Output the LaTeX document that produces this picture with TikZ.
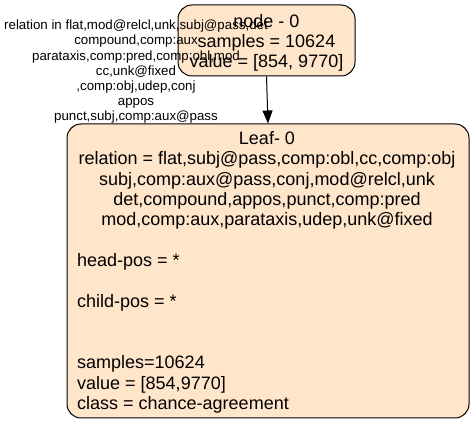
\documentclass[tikz,border=0pt]{standalone}
\usepackage{fontspec}
\setmainfont{Liberation Sans}
\usetikzlibrary{arrows.meta}
\definecolor{boxfill}{HTML}{FFE5CA}
\tikzset{
  treebox/.style={draw=black, line width=1pt, fill=boxfill, rounded corners=14pt, inner sep=0pt},
  bigtxt/.style={inner sep=0pt, font=\fontsize{18}{20}\selectfont},
  smalltxt/.style={inner sep=0pt, font=\fontsize{13.3}{15}\selectfont},
  edgeline/.style={draw=black, line width=1pt, -{Triangle[length=13pt,width=10pt]}}
}
\begin{document}
\begin{tikzpicture}[x=1pt,y=-1pt]
\useasboundingbox (0,0) rectangle (475,425);
% boxes
\node[treebox, minimum width=177pt, minimum height=71pt] (root) at (266.5,40.5) {};
\node[treebox, minimum width=402pt, minimum height=294pt] (leaf) at (268,271) {};
% connector
\draw[edgeline] (root.south) -- (leaf.north);
% root text
\foreach \t [count=\i] in {node - 0, samples = 10624, {value = [854, 9770]}}
  \node[bigtxt, anchor=base] (r\i) at (266.5, 7.4+20*\i) {\t};
% leaf centered text
\foreach \t [count=\i] in {Leaf- 0,
  {relation = flat,subj@pass,comp:obl,cc,comp:obj},
  {subj,comp:aux@pass,conj,mod@relcl,unk},
  {det,compound,appos,punct,comp:pred},
  {mod,comp:aux,parataxis,udep,unk@fixed}}
  \node[bigtxt, anchor=base] (c\i) at (267, 124+20.4*\i) {\t};
% leaf left text
\node[bigtxt, anchor=base west] (h1) at (77,266.8) {head-pos = *};
\node[bigtxt, anchor=base west] (h2) at (77,307.6) {child-pos = *};
\node[bigtxt, anchor=base west] (h3) at (77,368.8) {samples=10624};
\node[bigtxt, anchor=base west] (h4) at (77,389.2) {value = [854,9770]};
\node[bigtxt, anchor=base west] (h5) at (77,409.6) {class = chance-agreement};
% edge label
\foreach \t [count=\i] in {{relation in flat,mod@relcl,unk,subj@pass,det},
  {compound,comp:aux},
  {parataxis,comp:pred,comp:obl,mod},
  {cc,unk@fixed},
  {,comp:obj,udep,conj},
  appos,
  {punct,subj,comp:aux@pass}}
  \node[smalltxt, anchor=base] (e\i) at (136, 14.5+15.2*\i) {\t};
\end{tikzpicture}
\end{document}
